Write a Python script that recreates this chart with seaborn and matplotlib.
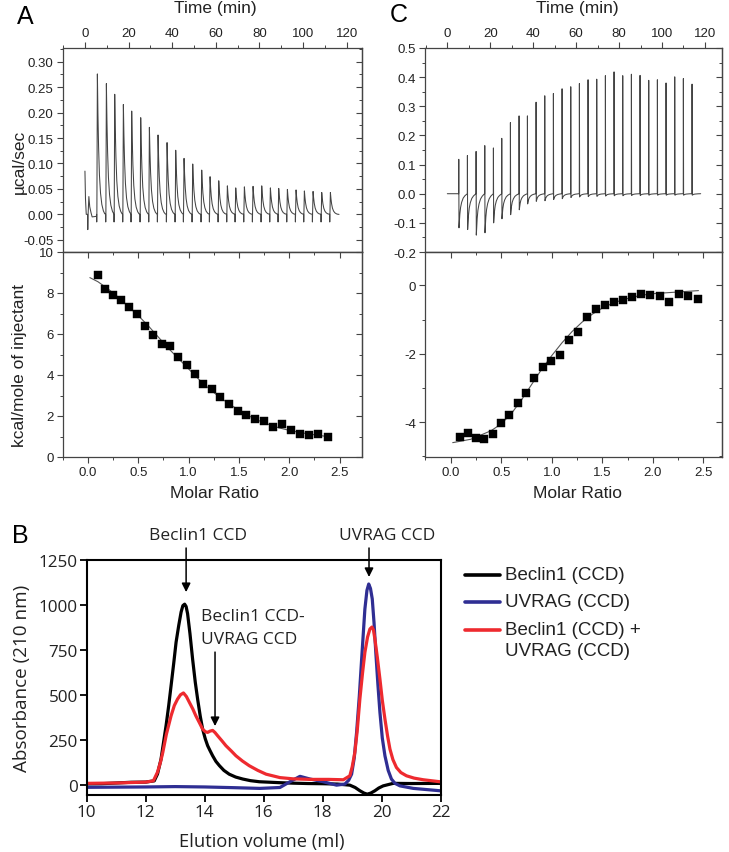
import numpy as np
import pandas as pd
import matplotlib
matplotlib.use('Agg')
import matplotlib.pyplot as plt
from matplotlib.ticker import MultipleLocator, FormatStrFormatter
from matplotlib.lines import Line2D
import seaborn as sns

sns.set_style('ticks')
plt.rcParams['font.family'] = ['Liberation Sans', 'DejaVu Sans']
plt.rcParams['axes.unicode_minus'] = False

# ---------------- Panel A: raw ITC trace ----------------
a_pre_t = [0.0, 0.25, 0.6, 1.2, 1.3, 1.45, 1.8, 2.2, 2.8, 3.3, 5.2]
a_pre_y = [0.085, 0.03, 0.0, 0.0, -0.03, 0.0, 0.035, 0.015, 0.003, -0.005, -0.004]
a_inj_time = [5.35, 9.48, 13.30, 17.27, 21.09, 25.22, 29.20, 33.17, 37.30, 41.27,
              45.09, 49.07, 53.19, 57.02, 61.00, 64.96, 68.79, 72.76, 76.73, 80.71,
              84.68, 88.50, 92.48, 96.45, 100.27, 104.25, 108.22, 112.20]
a_inj_peak = [0.276, 0.257, 0.236, 0.216, 0.203, 0.190, 0.171, 0.156, 0.141, 0.126,
              0.110, 0.099, 0.087, 0.074, 0.066, 0.056, 0.052, 0.054, 0.055, 0.056,
              0.052, 0.051, 0.049, 0.048, 0.046, 0.045, 0.043, 0.043]
a_inj_dip = -0.015
# shape of one injection peak
a_shape_dt = [0.0, 0.05, 0.12, 0.35, 0.6, 0.9, 1.3, 1.8, 2.4, 3.1, 3.7]
a_shape_up = [0.0, 0.0, 0.0, 1.0, 0.72, 0.48, 0.28, 0.15, 0.07, 0.025, 0.005]
a_shape_dn = [0.0, 1.0, 0.0, 0.0, 0.0, 0.0, 0.0, 0.0, 0.0, 0.0, 0.0]
a_end_t = [116.5]

# ---------------- Panel A: integrated heats ----------------
a_ratio = [0.096, 0.175, 0.254, 0.333, 0.413, 0.488, 0.571, 0.650, 0.733, 0.815,
           0.898, 0.980, 1.063, 1.145, 1.231, 1.317, 1.403, 1.488, 1.574, 1.663,
           1.749, 1.838, 1.927, 2.017, 2.106, 2.195, 2.290, 2.383]
a_heat = [8.90, 8.20, 7.92, 7.66, 7.30, 6.97, 6.39, 5.95, 5.52, 5.41,
          4.87, 4.51, 4.07, 3.57, 3.31, 2.95, 2.59, 2.25, 2.05, 1.85,
          1.77, 1.48, 1.61, 1.30, 1.13, 1.07, 1.10, 0.98]
a_fit_x = [0.02, 0.1, 0.2, 0.3, 0.4, 0.5, 0.6, 0.7, 0.8, 0.9, 1.0, 1.1, 1.2,
           1.3, 1.4, 1.5, 1.6, 1.7, 1.8, 1.9, 2.0, 2.1, 2.2, 2.3, 2.38]
a_fit_y = [8.75, 8.55, 8.2, 7.8, 7.35, 6.9, 6.4, 5.85, 5.3, 4.8, 4.3, 3.8, 3.35,
           2.95, 2.6, 2.28, 2.0, 1.77, 1.58, 1.42, 1.3, 1.2, 1.12, 1.05, 1.0]

# ---------------- Panel C: raw ITC trace ----------------
c_pre_t = [0.0, 5.2]
c_pre_y = [0.0, 0.0]
c_inj_time = [5.28, 9.31, 13.35, 17.39, 21.42, 25.30, 29.34, 33.37, 37.26, 41.29,
              45.33, 49.36, 53.40, 57.44, 61.47, 65.50, 69.54, 73.58, 77.61, 81.65,
              85.69, 89.72, 93.76, 97.80, 101.83, 105.87, 109.90, 113.94]
c_inj_peak = [0.118, 0.131, 0.145, 0.165, 0.157, 0.190, 0.244, 0.267, 0.267, 0.314,
              0.336, 0.344, 0.360, 0.367, 0.378, 0.391, 0.393, 0.405, 0.418, 0.405,
              0.410, 0.406, 0.389, 0.391, 0.380, 0.401, 0.395, 0.376]
c_inj_dip = [-0.117, -0.123, -0.142, -0.134, -0.100, -0.086, -0.072, -0.055, -0.035, -0.026,
             -0.024, -0.020, -0.017, -0.013, -0.011, -0.010, -0.009, -0.008, -0.007, -0.007,
             -0.006, -0.006, -0.005, -0.005, -0.005, -0.005, -0.005, -0.005]
c_shape_dt = [0.0, 0.05, 0.15, 0.3, 0.55, 0.9, 1.4, 2.1, 2.9, 3.7]
c_shape_up = [0.0, 1.0, 0.0, 0.0, 0.0, 0.0, 0.0, 0.0, 0.0, 0.0]
c_shape_dn = [0.0, 0.0, 1.0, 0.85, 0.6, 0.4, 0.25, 0.13, 0.06, 0.015]
c_end_t = [118.0]

# ---------------- Panel C: integrated heats ----------------
c_ratio = [0.092, 0.175, 0.254, 0.333, 0.416, 0.498, 0.577, 0.663, 0.745, 0.828,
           0.910, 0.996, 1.082, 1.168, 1.257, 1.346, 1.435, 1.524, 1.613, 1.702,
           1.791, 1.883, 1.972, 2.065, 2.157, 2.253, 2.345, 2.441]
c_heat = [-4.43, -4.32, -4.45, -4.48, -4.36, -4.03, -3.79, -3.45, -3.15, -2.71,
          -2.39, -2.21, -2.02, -1.60, -1.36, -0.93, -0.69, -0.58, -0.48, -0.43,
          -0.33, -0.25, -0.27, -0.31, -0.47, -0.25, -0.30, -0.40]
c_fit_x = [0.02, 0.2, 0.4, 0.5, 0.6, 0.7, 0.8, 0.9, 1.0, 1.1, 1.2, 1.3, 1.4,
           1.5, 1.6, 1.7, 1.8, 1.9, 2.0, 2.2, 2.45]
c_fit_y = [-4.6, -4.5, -4.25, -4.05, -3.75, -3.35, -2.9, -2.45, -2.05, -1.68, -1.35,
           -1.07, -0.84, -0.66, -0.52, -0.42, -0.34, -0.28, -0.24, -0.2, -0.15]

# ---------------- Panel B: gel filtration ----------------
beclin_x = [10.0, 10.5, 11.0, 11.5, 12.0, 12.29, 12.4, 12.52, 12.6, 12.69, 12.78, 12.86,
            12.95, 13.03, 13.12, 13.2, 13.26, 13.32, 13.37, 13.42, 13.5, 13.59, 13.68,
            13.76, 13.85, 13.93, 14.02, 14.1, 14.18, 14.27, 14.38, 14.5, 14.65, 14.83,
            15.05, 15.29, 15.55, 15.85, 16.5, 17.0, 17.5, 18.0, 18.5, 18.92, 19.1, 19.26,
            19.4, 19.51, 19.63, 19.77, 19.9, 20.05, 20.39, 21.0, 22.0]
beclin_y = [5, 6, 10, 14, 15, 22, 60, 143, 230, 328, 440, 550,
            675, 792, 885, 959, 995, 1003, 990, 950, 840, 698, 570,
            476, 380, 309, 255, 217, 190, 161, 130, 106, 80, 59,
            43, 32, 23, 17, 12, 9, 7, 6, 4, -2, -15, -33,
            -46, -52, -46, -33, -18, -6, 8, 7, 8]
uvrag_x = [10.0, 11.0, 12.0, 13.0, 14.0, 15.0, 15.87, 16.55, 16.89, 17.23, 17.57, 18.02,
           18.47, 18.75, 18.88, 18.98, 19.07, 19.15, 19.24, 19.32, 19.38, 19.43, 19.5,
           19.56, 19.62, 19.68, 19.74, 19.8, 19.87, 19.94, 20.02, 20.11, 20.22, 20.33,
           20.45, 20.62, 21.07, 21.97]
uvrag_y = [-14, -13, -12, -10, -12, -16, -20, -15, 17, 47, 32, 17,
           -2, 4, 25, 59, 150, 293, 490, 698, 850, 976, 1080,
           1115, 1090, 1032, 900, 735, 560, 402, 260, 161, 80, 32,
           8, -6, -20, -33]
mix_x = [10.0, 11.0, 12.0, 12.26, 12.4, 12.5, 12.58, 12.7, 12.86, 12.97, 13.08, 13.18,
         13.28, 13.38, 13.48, 13.6, 13.7, 13.82, 13.93, 14.02, 14.1, 14.18, 14.27, 14.35,
         14.44, 14.58, 14.72, 14.9, 15.06, 15.28, 15.51, 15.8, 16.08, 16.55, 17.0, 17.57,
         18.2, 18.7, 18.92, 19.0, 19.09, 19.17, 19.26, 19.35, 19.43, 19.52, 19.6, 19.67,
         19.72, 19.77, 19.85, 19.94, 20.02, 20.11, 20.2, 20.28, 20.38, 20.5, 20.65, 20.84,
         21.1, 21.41, 21.97]
mix_y = [8, 10, 15, 22, 70, 125, 180, 280, 383, 440, 476, 500,
         510, 490, 458, 420, 383, 345, 309, 295, 291, 298, 302, 290,
         272, 245, 217, 188, 161, 132, 106, 80, 59, 40, 33, 30,
         30, 28, 50, 100, 180, 300, 476, 620, 735, 820, 865, 876,
         860, 809, 710, 587, 470, 365, 270, 198, 140, 96, 68, 50,
         37, 28, 17]


def build_trace(pre_t, pre_y, times, peaks, dips, dt, up, dn, end_t):
    t = list(pre_t)
    y = list(pre_y)
    if np.isscalar(dips):
        dips = [dips] * len(times)
    for t0, p, d in zip(times, peaks, dips):
        for o, u, v in zip(dt, up, dn):
            t.append(t0 + o)
            y.append(u * p + v * d)
    for te in end_t:
        t.append(te)
        y.append(0.0)
    return pd.DataFrame({'t': t, 'y': y})


W, H = 729, 853
fig = plt.figure(figsize=(W / 100, H / 100), dpi=100)


def add_ax(x0, y0, x1, y1):
    return fig.add_axes([x0 / W, 1 - y1 / H, (x1 - x0) / W, (y1 - y0) / H])


def ftext(x, y, s, **kw):
    fig.text(x / W, 1 - y / H, s, **kw)


spine_col = '#444444'
txt_col = '#222222'


def style_itc(ax, top_panel):
    for s in ax.spines.values():
        s.set_color(spine_col)
        s.set_linewidth(0.9)
    ax.tick_params(which='major', length=4, width=0.8, colors=spine_col,
                   labelcolor=txt_col, labelsize=9.5, pad=2.5)
    ax.tick_params(which='minor', length=2.3, width=0.7, colors=spine_col)
    ax.tick_params(axis='y', which='both', left=True, right=False, direction='out')
    if top_panel:
        ax.tick_params(axis='x', which='both', top=True, labeltop=True,
                       bottom=False, labelbottom=False, direction='out')
    else:
        ax.tick_params(axis='x', which='both', bottom=True, labelbottom=True,
                       top=False, labeltop=False, direction='out')
        secx = ax.secondary_xaxis('top')
        secx.xaxis.set_major_locator(ax.xaxis.get_major_locator())
        secx.xaxis.set_minor_locator(ax.xaxis.get_minor_locator())
        secx.tick_params(which='both', direction='in', labeltop=False, colors=spine_col)
        secx.tick_params(which='major', length=4, width=0.8)
        secx.tick_params(which='minor', length=2.3, width=0.7)
        secx.spines['top'].set_color(spine_col)
        secx.spines['top'].set_linewidth(0.9)
    secy = ax.secondary_yaxis('right')
    secy.yaxis.set_major_locator(ax.yaxis.get_major_locator())
    secy.yaxis.set_minor_locator(ax.yaxis.get_minor_locator())
    secy.tick_params(which='both', direction='in', labelright=False, colors=spine_col)
    secy.tick_params(which='major', length=4, width=0.8)
    secy.tick_params(which='minor', length=2.3, width=0.7)
    secy.spines['right'].set_color(spine_col)
    secy.spines['right'].set_linewidth(0.9)


trace_col = '#444444'

# ---- A top
axA1 = add_ax(62.7, 49, 361.7, 253)
dfA = build_trace(a_pre_t, a_pre_y, a_inj_time, a_inj_peak, a_inj_dip,
                  a_shape_dt, a_shape_up, a_shape_dn, a_end_t)
sns.lineplot(data=dfA, x='t', y='y', sort=False, estimator=None, ax=axA1,
             color=trace_col, lw=0.75)
axA1.set_xlim(-10.2, 126.9)
axA1.set_ylim(-0.074, 0.327)
axA1.xaxis.set_major_locator(MultipleLocator(20))
axA1.xaxis.set_minor_locator(MultipleLocator(10))
axA1.yaxis.set_major_locator(MultipleLocator(0.05))
axA1.yaxis.set_minor_locator(MultipleLocator(0.025))
axA1.yaxis.set_major_formatter(FormatStrFormatter('%.2f'))
axA1.set_xlabel('')
axA1.set_ylabel('')
style_itc(axA1, True)

# ---- A bottom
axA2 = add_ax(62.7, 253, 361.7, 458)
sns.lineplot(x=a_fit_x, y=a_fit_y, ax=axA2, color='#555555', lw=0.8, sort=False, estimator=None)
sns.scatterplot(x=a_ratio, y=a_heat, ax=axA2, marker='s', s=40, color='black',
                edgecolor='black', linewidth=0.3, zorder=3)
axA2.set_xlim(-0.25, 2.72)
axA2.set_ylim(0, 10)
axA2.xaxis.set_major_locator(MultipleLocator(0.5))
axA2.xaxis.set_minor_locator(MultipleLocator(0.25))
axA2.xaxis.set_major_formatter(FormatStrFormatter('%.1f'))
axA2.yaxis.set_major_locator(MultipleLocator(2))
axA2.yaxis.set_minor_locator(MultipleLocator(1))
style_itc(axA2, False)

# ---- C top
axC1 = add_ax(425, 49, 721.7, 253)
dfC = build_trace(c_pre_t, c_pre_y, c_inj_time, c_inj_peak, c_inj_dip,
                  c_shape_dt, c_shape_up, c_shape_dn, c_end_t)
sns.lineplot(data=dfC, x='t', y='y', sort=False, estimator=None, ax=axC1,
             color=trace_col, lw=0.75)
axC1.set_xlim(-10.4, 127.8)
axC1.set_ylim(-0.2, 0.5)
axC1.xaxis.set_major_locator(MultipleLocator(20))
axC1.xaxis.set_minor_locator(MultipleLocator(10))
axC1.yaxis.set_major_locator(MultipleLocator(0.1))
axC1.yaxis.set_minor_locator(MultipleLocator(0.05))
axC1.yaxis.set_major_formatter(FormatStrFormatter('%.1f'))
axC1.set_xlabel('')
axC1.set_ylabel('')
style_itc(axC1, True)

# ---- C bottom
axC2 = add_ax(425, 253, 721.7, 458)
sns.lineplot(x=c_fit_x, y=c_fit_y, ax=axC2, color='#555555', lw=0.8, sort=False, estimator=None)
sns.scatterplot(x=c_ratio, y=c_heat, ax=axC2, marker='s', s=40, color='black',
                edgecolor='black', linewidth=0.3, zorder=3)
axC2.set_xlim(-0.254, 2.68)
axC2.set_ylim(-5.02, 0.98)
axC2.xaxis.set_major_locator(MultipleLocator(0.5))
axC2.xaxis.set_minor_locator(MultipleLocator(0.25))
axC2.xaxis.set_major_formatter(FormatStrFormatter('%.1f'))
axC2.yaxis.set_major_locator(MultipleLocator(2))
axC2.yaxis.set_minor_locator(MultipleLocator(1))
axC2.yaxis.set_major_formatter(FormatStrFormatter('%d'))
style_itc(axC2, False)

# ITC labels
lab_kw = dict(fontsize=12.5, color=txt_col, ha='center', va='center')
ftext(215.7, 9, 'Time (min)', **lab_kw)
ftext(577, 9, 'Time (min)', **lab_kw)
ftext(214, 494, 'Molar Ratio', **lab_kw)
ftext(577.5, 494, 'Molar Ratio', **lab_kw)
ftext(19, 162, 'µcal/sec', rotation=90, **lab_kw)
ftext(20, 366, 'kcal/mole of injectant', rotation=90, **lab_kw)
ftext(25, 17, 'A', fontsize=18, color='black', ha='center', va='center')
ftext(399, 15, 'C', fontsize=18, color='black', ha='center', va='center')
ftext(20, 536, 'B', fontsize=18, color='black', ha='center', va='center')

# ---- B
axB = add_ax(86.7, 560.7, 440.7, 795.7)
col_black = '#000000'
col_blue = '#2f2e93'
col_red = '#ee2a2f'
sns.lineplot(x=beclin_x, y=beclin_y, ax=axB, color=col_black, lw=2.3, sort=False, estimator=None)
sns.lineplot(x=uvrag_x, y=uvrag_y, ax=axB, color=col_blue, lw=2.3, sort=False, estimator=None)
sns.lineplot(x=mix_x, y=mix_y, ax=axB, color=col_red, lw=2.3, sort=False, estimator=None)
for ln in axB.get_lines():
    ln.set_solid_joinstyle('round')
axB.set_xlim(10, 22)
axB.set_ylim(-55, 1250)
axB.set_xticks(np.arange(10, 23, 2))
axB.set_yticks(np.arange(0, 1251, 250))
for s in axB.spines.values():
    s.set_visible(True)
    s.set_color('black')
    s.set_linewidth(1.5)
axB.tick_params(direction='out', length=5, width=1.3, pad=1.5, labelsize=12.3,
                colors='black', labelcolor='#222222')
for lab in axB.get_xticklabels() + axB.get_yticklabels():
    lab.set_family(['Open Sans', 'DejaVu Sans'])
axB.set_xlabel('')
axB.set_ylabel('')

bkw = dict(family=['Open Sans', 'DejaVu Sans'], color='#222222')
ftext(262, 842, 'Elution volume (ml)', fontsize=13.2, ha='center', va='center', **bkw)
ftext(22.5, 678, 'Absorbance (210 nm)', fontsize=13.6, ha='center', va='center',
      rotation=90, **bkw)
ftext(198, 536, 'Beclin1 CCD', fontsize=12.5, ha='center', va='center', **bkw)
ftext(386.7, 536, 'UVRAG CCD', fontsize=12.5, ha='center', va='center', **bkw)
ftext(201, 617, 'Beclin1 CCD-', fontsize=12.5, ha='left', va='center', **bkw)
ftext(201, 640, 'UVRAG CCD', fontsize=12.5, ha='left', va='center', **bkw)

arrow_kw = dict(arrowstyle='-|>', color='black', lw=1.1, mutation_scale=13,
                shrinkA=0, shrinkB=0)
axB.annotate('', xy=(13.37, 1070), xytext=(13.37, 1315), arrowprops=arrow_kw,
             annotation_clip=False)
axB.annotate('', xy=(19.57, 1154), xytext=(19.57, 1315), arrowprops=arrow_kw,
             annotation_clip=False)
axB.annotate('', xy=(14.35, 326), xytext=(14.35, 737), arrowprops=arrow_kw,
             annotation_clip=False)

# legend for B
leg_items = [(576, col_black, 'Beclin1 (CCD)'),
             (603, col_blue, 'UVRAG (CCD)'),
             (631, col_red, 'Beclin1 (CCD) +')]
for yy, cc, tt in leg_items:
    fig.add_artist(Line2D([465 / W, 500 / W], [1 - yy / H, 1 - yy / H], color=cc, lw=2.6))
    ftext(505, yy, tt, fontsize=13.5, ha='left', va='center', color='#222222')
ftext(505, 652, 'UVRAG (CCD)', fontsize=13.5, ha='left', va='center', color='#222222')

fig.savefig('out.png', dpi=100)
